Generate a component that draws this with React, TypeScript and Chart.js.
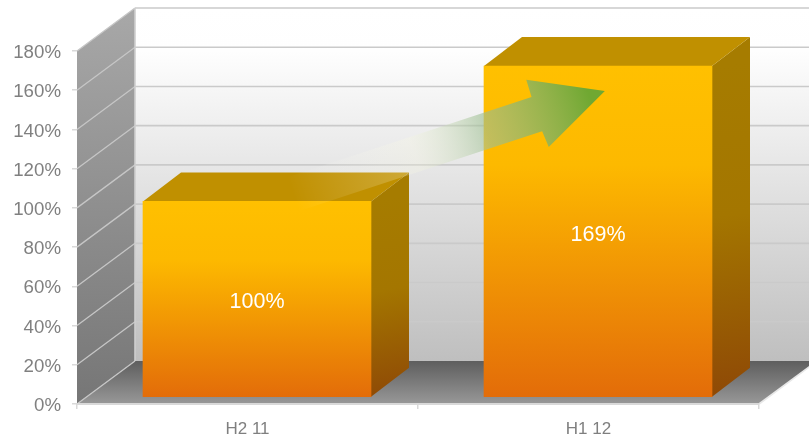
import React, { useEffect, useRef } from "react";
import { Chart, registerables } from "chart.js";

Chart.register(...registerables);

const categories = ["H2 11", "H1 12"];
const seriesValues = [100, 169];
const valueMin = 0;
const valueMax = 180;
const valueStep = 20;

const FONT = "'Liberation Sans', Arial, sans-serif";
const WALL_DX = 58;
const WALL_DY = 43;
const BAR_SHIFT_X = 9.5;
const BAR_SHIFT_Y = -6.5;
const BAR_DX = 38;
const BAR_DY = 29;

function poly(ctx: CanvasRenderingContext2D, pts: number[][]) {
  ctx.beginPath();
  pts.forEach(([x, y], i) => (i ? ctx.lineTo(x, y) : ctx.moveTo(x, y)));
  ctx.closePath();
}

// Back wall, side wall, floor and the gridlines running over them.
const wallsPlugin = {
  id: "walls",
  beforeDraw(chart: any) {
    const { ctx, chartArea: a, scales } = chart;
    const yTop = a.top;
    const yBase = a.bottom;
    ctx.save();

    const back = ctx.createLinearGradient(0, yTop - WALL_DY, 0, yBase - WALL_DY);
    back.addColorStop(0, "#ffffff");
    back.addColorStop(0.12, "#fefefe");
    back.addColorStop(1, "#bfbfbf");
    ctx.fillStyle = back;
    ctx.fillRect(a.left + WALL_DX, yTop - WALL_DY, chart.width, yBase - yTop);

    const side = ctx.createLinearGradient(0, yTop - WALL_DY, 0, yBase);
    side.addColorStop(0, "#a8a8a8");
    side.addColorStop(1, "#767676");
    ctx.fillStyle = side;
    poly(ctx, [
      [a.left, yTop],
      [a.left + WALL_DX, yTop - WALL_DY],
      [a.left + WALL_DX, yBase - WALL_DY],
      [a.left, yBase],
    ]);
    ctx.fill();

    const floor = ctx.createLinearGradient(0, yBase - WALL_DY, 0, yBase);
    floor.addColorStop(0, "#5e5e5e");
    floor.addColorStop(1, "#989898");
    ctx.fillStyle = floor;
    poly(ctx, [
      [a.left, yBase],
      [a.right, yBase],
      [a.right + WALL_DX, yBase - WALL_DY],
      [a.left + WALL_DX, yBase - WALL_DY],
    ]);
    ctx.fill();

    // Lines on the side wall
    ctx.strokeStyle = "#c6c6c6";
    ctx.lineWidth = 1.3;
    scales.y.ticks.forEach((t: any) => {
      const py = scales.y.getPixelForValue(t.value);
      ctx.beginPath();
      ctx.moveTo(a.left, py);
      ctx.lineTo(a.left + WALL_DX, py - WALL_DY);
      ctx.stroke();
    });

    // Lines on the back wall
    ctx.strokeStyle = "#cacaca";
    ctx.lineWidth = 1.6;
    scales.y.ticks.forEach((t: any) => {
      if (t.value === 0) return;
      const py = scales.y.getPixelForValue(t.value) - WALL_DY;
      ctx.beginPath();
      ctx.moveTo(a.left + WALL_DX, py);
      ctx.lineTo(chart.width, py);
      ctx.stroke();
    });

    ctx.strokeStyle = "#cfcfcf";
    ctx.beginPath();
    ctx.moveTo(a.left + WALL_DX, yTop - WALL_DY);
    ctx.lineTo(a.left + WALL_DX, yBase - WALL_DY);
    ctx.stroke();
    ctx.beginPath();
    ctx.moveTo(a.right, yBase);
    ctx.lineTo(a.right + WALL_DX, yBase - WALL_DY);
    ctx.strokeStyle = "#e8e8e8";
    ctx.stroke();
    ctx.restore();
  },
};

// Extruded faces behind each bar; bars sit slightly inside the floor.
const boxPlugin = {
  id: "boxes",
  beforeDatasetsDraw(chart: any) {
    const { ctx } = chart;
    ctx.save();
    ctx.translate(BAR_SHIFT_X, BAR_SHIFT_Y);
    chart.getDatasetMeta(0).data.forEach((bar: any) => {
      const { x, y, base, width } = bar.getProps(["x", "y", "base", "width"], true);
      const l = x - width / 2;
      const r = x + width / 2;
      const side = ctx.createLinearGradient(r, y, r + BAR_DX, base);
      side.addColorStop(0, "#a67c00");
      side.addColorStop(0.45, "#a47600");
      side.addColorStop(1, "#8e4806");
      ctx.fillStyle = side;
      poly(ctx, [
        [r, y],
        [r + BAR_DX, y - BAR_DY],
        [r + BAR_DX, base - BAR_DY],
        [r, base],
      ]);
      ctx.fill();
      ctx.fillStyle = "#c09000";
      poly(ctx, [
        [l, y],
        [l + BAR_DX, y - BAR_DY],
        [r + BAR_DX, y - BAR_DY],
        [r, y],
      ]);
      ctx.fill();
    });
  },
  afterDatasetsDraw(chart: any) {
    const { ctx } = chart;
    const meta = chart.getDatasetMeta(0);
    ctx.font = `21.5px ${FONT}`;
    ctx.fillStyle = "#ffffff";
    ctx.textAlign = "center";
    ctx.textBaseline = "middle";
    meta.data.forEach((bar: any, i: number) => {
      const { x, y, base } = bar.getProps(["x", "y", "base"], true);
      ctx.fillText(`${seriesValues[i]}%`, x, (y + base) / 2 + 3.5);
    });
    ctx.restore();
    drawGrowthArrow(chart);
  },
};

// Fading arrow from the first bar up toward the second.
function drawGrowthArrow(chart: any) {
  const { ctx, scales } = chart;
  const at = (cat: number, val: number) => [scales.x.getPixelForValue(cat), scales.y.getPixelForValue(val)];
  const tip = at(1.048, 159.6);
  const headTop = at(0.8175, 165.4);
  const notchTop = at(0.833, 156.6);
  const notchBot = at(0.864, 139.1);
  const headBot = at(0.8835, 131);
  const tailBot = at(0.154, 98.5);
  const tailTop = at(0.11, 115.2);
  ctx.save();
  const g = ctx.createLinearGradient(
    (tailTop[0] + tailBot[0]) / 2,
    (tailTop[1] + tailBot[1]) / 2,
    tip[0],
    tip[1],
  );
  g.addColorStop(0, "rgba(255,255,255,0)");
  g.addColorStop(0.39, "rgba(250,250,225,0.26)");
  g.addColorStop(0.62, "rgba(158,191,148,0.62)");
  g.addColorStop(0.95, "rgba(112,168,50,1)");
  g.addColorStop(1, "rgba(112,168,50,1)");
  ctx.fillStyle = g;
  poly(ctx, [tip, headTop, notchTop, tailTop, tailBot, notchBot, headBot]);
  ctx.fill();
  ctx.restore();
}

export default function App() {
  const ref = useRef<HTMLCanvasElement>(null);
  useEffect(() => {
    const chart = new Chart(ref.current!, {
      type: "bar",
      data: {
        labels: categories,
        datasets: [
          {
            data: seriesValues,
            barThickness: 228,
            borderWidth: 0,
            backgroundColor: (c: any) => {
              const { chart: ch, parsed } = c;
              const y = parsed ? ch.scales.y.getPixelForValue(parsed.y) : NaN;
              const base = ch.scales.y?.getPixelForValue(0);
              if (!Number.isFinite(y) || !Number.isFinite(base)) return "#ffc000";
              const g = ch.ctx.createLinearGradient(0, y, 0, base);
              g.addColorStop(0, "#ffc000");
              g.addColorStop(0.3, "#fdb900");
              g.addColorStop(1, "#e36c09");
              return g;
            },
          },
        ],
      },
      options: {
        responsive: false,
        animation: false,
        layout: { padding: { top: 51, right: 50, left: 0, bottom: 0 } },
        plugins: { legend: { display: false }, tooltip: { enabled: false } },
        scales: {
          x: {
            grid: { drawOnChartArea: false, drawTicks: true, tickLength: 5, color: "#d9d9d9", lineWidth: 1.5 },
            border: { color: "#d9d9d9", width: 2 },
            ticks: { color: "#7f7f7f", font: { family: FONT, size: 17 }, padding: 10, maxRotation: 0 },
            afterFit: (s: any) => {
              s.height = 33;
            },
          },
          y: {
            min: valueMin,
            max: valueMax,
            grid: { drawOnChartArea: false, drawTicks: true, tickLength: 5, color: "#d9d9d9", lineWidth: 1.5 },
            border: { display: false },
            ticks: {
              stepSize: valueStep,
              color: "#808080",
              font: { family: FONT, size: 18.7 },
              padding: 11,
              labelOffset: 2,
              callback: (v: any) => `${v}%`,
            },
            afterFit: (s: any) => {
              s.width = 77;
            },
          },
        },
      },
      plugins: [wallsPlugin, boxPlugin],
    } as any);
    return () => chart.destroy();
  }, []);
  return (
    <div style={{ position: "fixed", left: 0, top: 0 }}>
      <canvas ref={ref} width={809} height={437} style={{ display: "block" }} />
    </div>
  );
}
